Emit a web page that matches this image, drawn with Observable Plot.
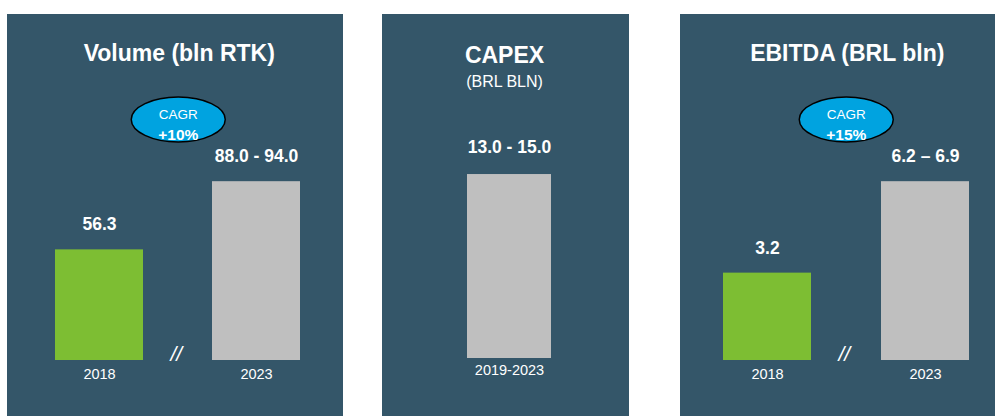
<!DOCTYPE html>
<html>
<head>
<meta charset="utf-8">
<script src="https://cdn.jsdelivr.net/npm/d3@7"></script>
<script src="https://cdn.jsdelivr.net/npm/@observablehq/plot@0.6"></script>
<style>
  html, body { margin: 0; padding: 0; background: #ffffff; }
  #wrap { position: relative; width: 995px; height: 416px; overflow: hidden; }
  .panel { position: absolute; top: 14px; }
</style>
</head>
<body>
<div id="wrap">
  <div class="panel" id="p1" style="left:7px"></div>
  <div class="panel" id="p2" style="left:382px"></div>
  <div class="panel" id="p3" style="left:680px"></div>
</div>
<script>
// ---- Data ----
const volumeCategories = ["2018", "2023"];
const volumeLow = [56.3, 88.0];
const volumeHigh = [56.3, 94.0];
const volumeLabels = ["56.3", "88.0 - 94.0"];
const volumeCagr = "+10%";

const capexCategories = ["2019-2023"];
const capexLow = [13.0];
const capexHigh = [15.0];
const capexLabels = ["13.0 - 15.0"];

const ebitdaCategories = ["2018", "2023"];
const ebitdaLow = [3.2, 6.2];
const ebitdaHigh = [3.2, 6.9];
const ebitdaLabels = ["3.2", "6.2 – 6.9"];
const ebitdaCagr = "+15%";

const barKinds = ["actual", "target"];

// ---- Styling ----
const BG = "#345669";
const GREEN = "#7dbe33";
const GRAY = "#bfbfbf";
const CAGR_FILL = "#00a3e0";
const FONT = "'Liberation Sans', Arial, Helvetica, sans-serif";

const ellipseSymbol = {
  draw(ctx) {
    const rx = 47, ry = 22.5, k = 0.5523;
    ctx.moveTo(rx, 0);
    ctx.bezierCurveTo(rx, ry * k, rx * k, ry, 0, ry);
    ctx.bezierCurveTo(-rx * k, ry, -rx, ry * k, -rx, 0);
    ctx.bezierCurveTo(-rx, -ry * k, -rx * k, -ry, 0, -ry);
    ctx.bezierCurveTo(rx * k, -ry, rx, -ry * k, rx, 0);
    ctx.closePath();
  }
};

function rows(cats, low, high, labels, kinds) {
  return cats.map((c, i) => ({
    cat: c,
    value: (low[i] + high[i]) / 2,
    label: labels[i],
    kind: kinds[i]
  }));
}

function panel(cfg) {
  const data = rows(cfg.cats, cfg.low, cfg.high, cfg.labels, cfg.kinds);
  const marks = [
    Plot.barY(data, {x: "cat", y: "value", fill: d => d.kind === "actual" ? GREEN : GRAY}),
    Plot.text(data, {x: "cat", y: "value", text: "label", dy: cfg.labelDy, fill: "white",
      fontWeight: "bold", fontSize: 17.5}),
    Plot.axisX({tickSize: 0, tickPadding: cfg.tickPadding, fontSize: 14.5, fill: "white", label: null})
  ];
  cfg.titles.forEach(t => {
    marks.push(Plot.text([t.text], {frameAnchor: "top", text: d => d, dy: t.dy, dx: t.dx || 0,
      fill: "white", fontSize: t.size, fontWeight: t.weight, lineAnchor: "middle"}));
  });
  if (cfg.cagr) {
    marks.push(Plot.dot([cfg.cagr], {frameAnchor: "top", dy: 105, symbol: ellipseSymbol, r: 10,
      fill: CAGR_FILL, stroke: "#000", strokeWidth: 1.5}));
    marks.push(Plot.text(["CAGR"], {frameAnchor: "top", dy: 95, text: d => d, fill: "white", fontSize: 13.5}));
    marks.push(Plot.text([cfg.cagr], {frameAnchor: "top", dy: 114, text: d => d, fill: "white",
      fontSize: 15.5, fontWeight: "bold"}));
    marks.push(Plot.text(["//"], {frameAnchor: "bottom", dy: 0, dx: -2, text: d => d, fill: "white",
      fontSize: 21, fontStyle: "italic"}));
  }
  return Plot.plot({
    width: cfg.width,
    height: 402,
    marginTop: 0,
    marginBottom: cfg.marginBottom,
    marginLeft: cfg.marginLeft,
    marginRight: cfg.marginRight,
    style: {background: BG, color: "white", fontFamily: FONT, overflow: "visible"},
    x: {type: "band", domain: cfg.cats, paddingInner: cfg.paddingInner, paddingOuter: 0, label: null},
    y: {domain: cfg.yDomain, axis: null},
    marks
  });
}

document.getElementById("p1").appendChild(panel({
  width: 336, marginLeft: 48, marginRight: 42.5, marginBottom: 56, paddingInner: 0.441,
  cats: volumeCategories, low: volumeLow, high: volumeHigh, labels: volumeLabels, kinds: barKinds,
  yDomain: [0, 346 / 1.965], labelDy: -25, tickPadding: 8,
  titles: [{text: "Volume (bln RTK)", dy: 39, size: 23, weight: "bold", dx: 1}],
  cagr: volumeCagr
}));

document.getElementById("p2").appendChild(panel({
  width: 247, marginLeft: 85, marginRight: 78, marginBottom: 58, paddingInner: 0,
  cats: capexCategories, low: capexLow, high: capexHigh, labels: capexLabels, kinds: ["target"],
  yDomain: [0, 344 / 13.14], labelDy: -27, tickPadding: 6,
  titles: [
    {text: "CAPEX", dy: 41, size: 23, weight: "bold", dx: -5},
    {text: "(BRL BLN)", dy: 67, size: 16, weight: "normal", dx: -5}
  ]
}));

document.getElementById("p3").appendChild(panel({
  width: 315, marginLeft: 42.5, marginRight: 26, marginBottom: 56, paddingInner: 0.445,
  cats: ebitdaCategories, low: ebitdaLow, high: ebitdaHigh, labels: ebitdaLabels, kinds: barKinds,
  yDomain: [0, 346 / 27.3], labelDy: -25, tickPadding: 8,
  titles: [{text: "EBITDA (BRL bln)", dy: 39, size: 23, weight: "bold", dx: 1}],
  cagr: ebitdaCagr
}));
</script>
</body>
</html>
